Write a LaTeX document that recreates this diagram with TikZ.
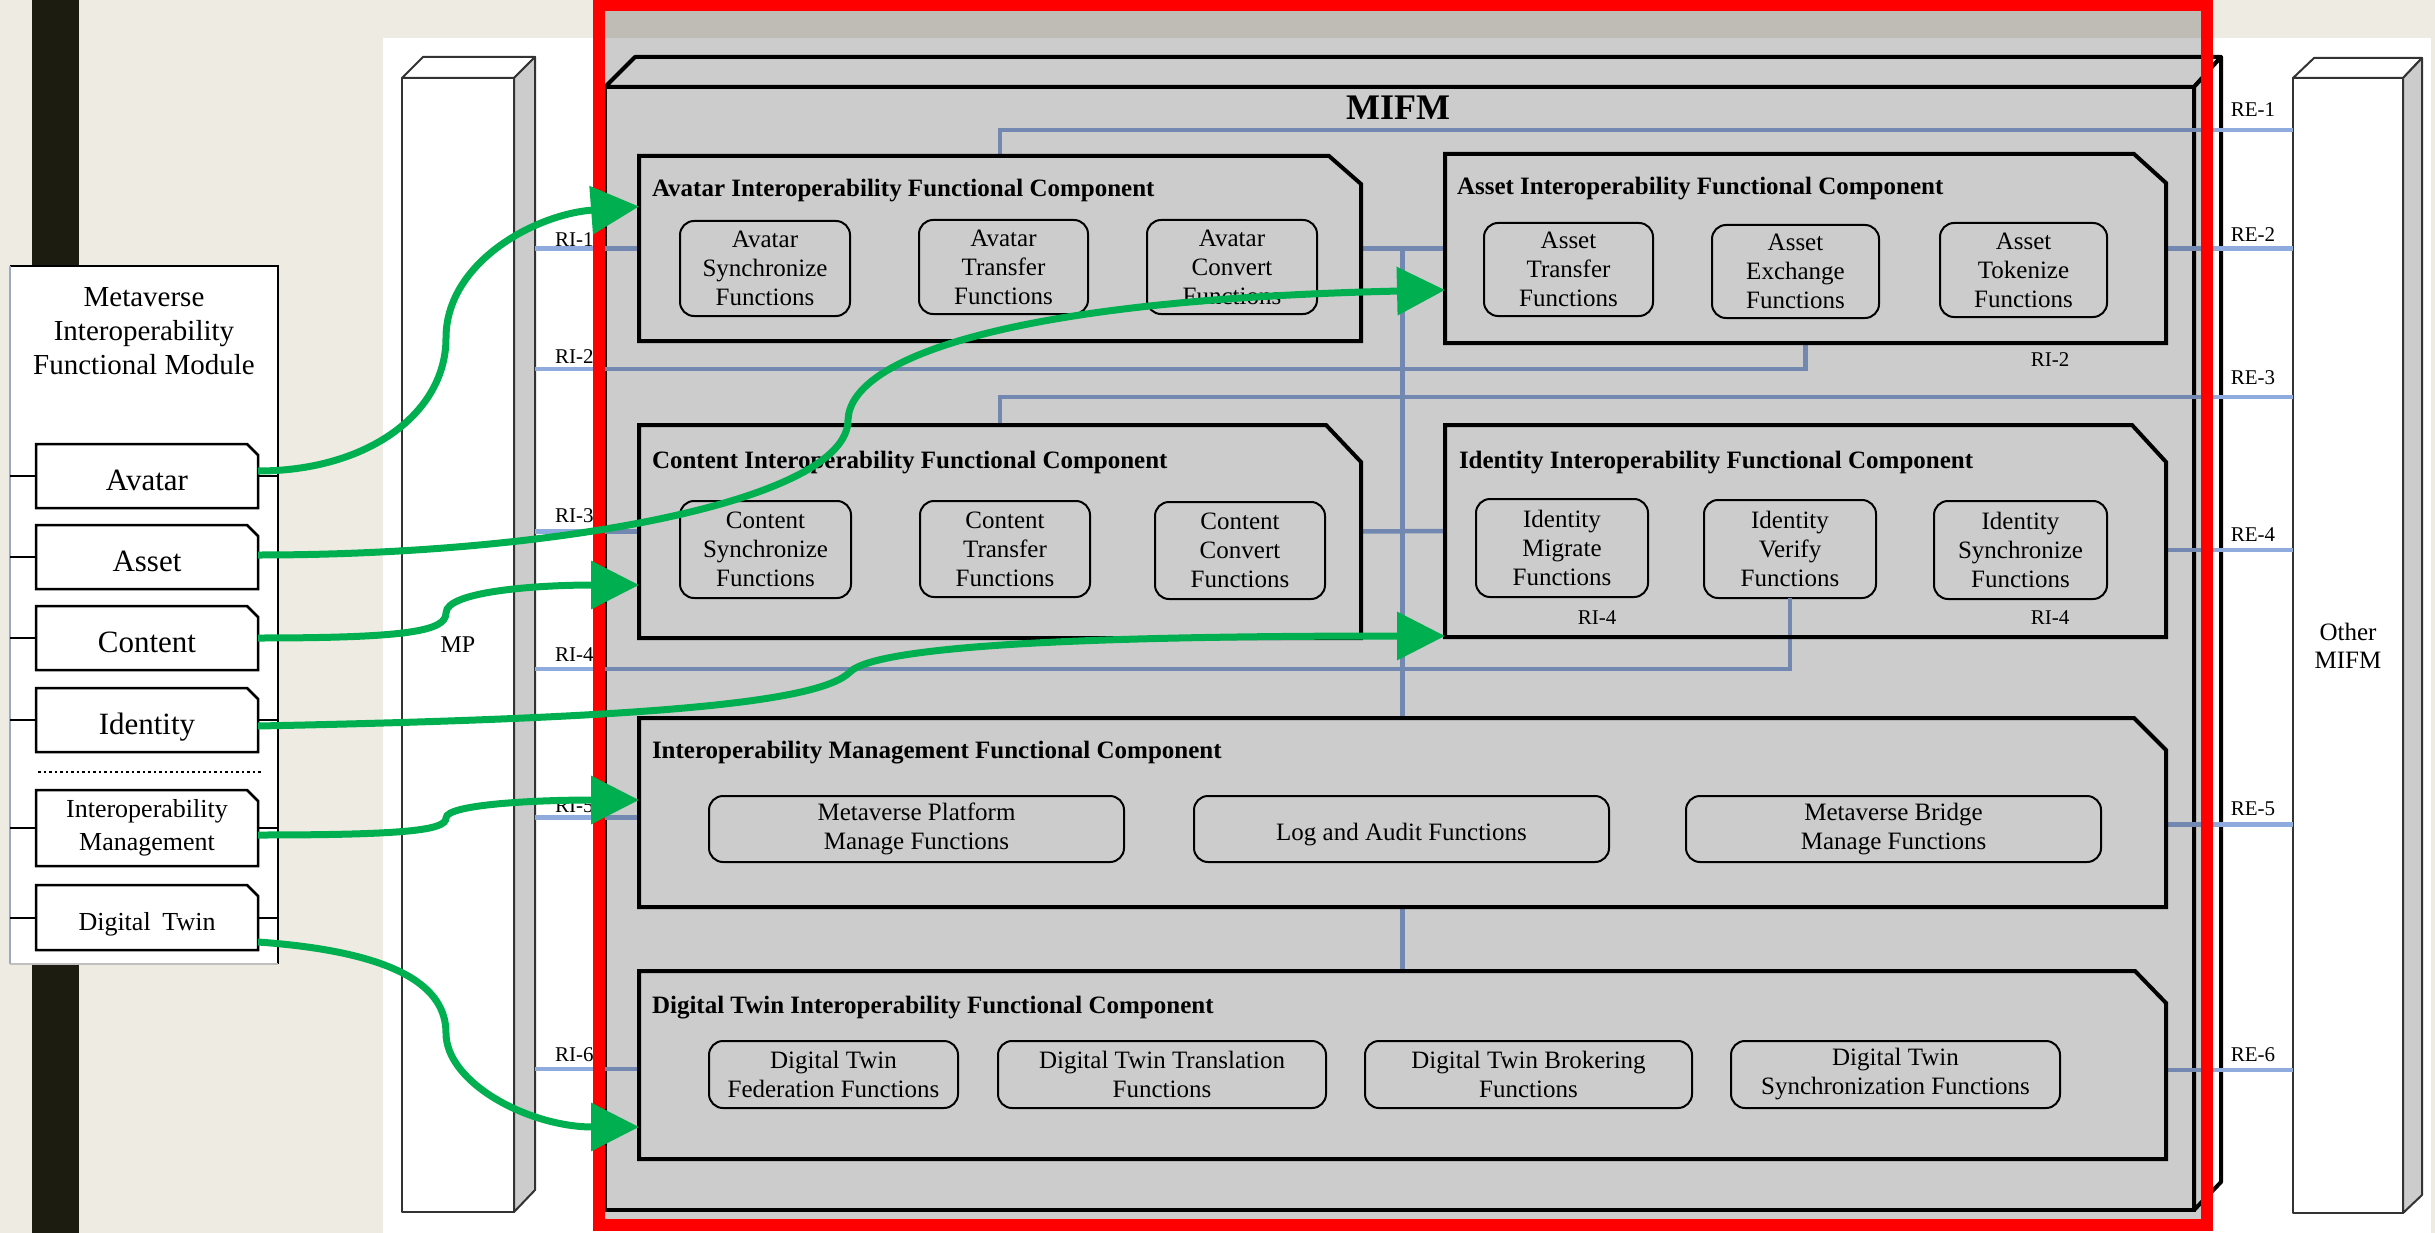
\documentclass[tikz,border=0pt]{standalone}
\usepackage{fontspec}
\setmainfont{Liberation Serif}
\usetikzlibrary{arrows.meta,calc}

\definecolor{bgbeige}{HTML}{EEEBE3}
\definecolor{darkbar}{HTML}{1C1C10}
\definecolor{ifblue}{HTML}{8FAADC}
\definecolor{sidegray}{HTML}{CCCCCC}
\definecolor{arrowgreen}{HTML}{00B050}
\definecolor{paneledge}{HTML}{9AAAC6}

% outline of a box whose top-right corner is cut off
\newcommand\chamferpath[4]{\draw[#4] (#1.north west) -- ([xshift=-#2pt]#1.north east) -- ([yshift=-#3pt]#1.north east) -- (#1.south east) -- (#1.south west) -- cycle;}

\begin{document}
\begin{tikzpicture}[x=1pt,y=-1pt,
  every node/.style={inner sep=0pt,outer sep=0pt},
  sz/.style 2 args={minimum width=#1pt,minimum height=#2pt},
  pillar/.style={draw=black!80,line width=2pt,line join=round},
  compline/.style={draw=black,line width=4pt,line join=miter},
  itemline/.style={draw=black,line width=2.5pt,line join=miter},
  fnbox/.style={draw=black,line width=2pt,rounded corners=14pt,fill=white,align=center,font=\fontsize{25}{29}\selectfont,execute at begin node={\rule{0pt}{28pt}}},
  ctitle/.style={anchor=base west,font=\bfseries\fontsize{25}{30}\selectfont},
  iflabel/.style={font=\fontsize{21}{24}\selectfont},
  ifline/.style={draw=ifblue,line width=4.5pt},
  tick/.style={draw=black,line width=2pt},
  mitem/.style={sz={222}{64},font=\fontsize{31}{36}\selectfont,text height=28.4pt,text depth=0pt},
  greenarrow/.style={draw=arrowgreen,line width=7pt,-{Triangle[length=48pt,width=47pt]}},
]
% ---------- background ----------
\fill[bgbeige] (0,0) rectangle (2435,1233);
\useasboundingbox (0,0) rectangle (2435,1233);
\fill[darkbar] (32,0) rectangle (79,1233);
\fill[white] (383,38) rectangle (2431,1233);

% ---------- MP pillar ----------
\node[sz={112}{1134},pillar,fill=white,font=\fontsize{24}{28}\selectfont] (mp) at (458,645) {MP};
\filldraw[pillar,fill=white] (mp.north west) -- ++(21,-21) -- ++(112,0) -- (mp.north east) -- cycle;
\filldraw[pillar,fill=sidegray] (mp.north east) -- ++(21,-21) -- ++(0,1133) -- (mp.south east) -- cycle;
\coordinate (mpR) at ([xshift=21pt]mp.east);

% ---------- Other MIFM pillar ----------
\node[sz={110}{1135},pillar,fill=white,align=center,font=\fontsize{25}{28}\selectfont] (om) at (2348,645.5) {Other\\MIFM};
\filldraw[pillar,fill=white] (om.north west) -- ++(21,-20) -- ++(108,0) -- (om.north east) -- cycle;
\filldraw[pillar,fill=sidegray] (om.north east) -- ++(19,-20) -- ++(0,1137) -- (om.south east) -- cycle;
\coordinate (omL) at (om.west);

% ---------- functional module panel ----------
\node[sz={268}{698},fill=white] (mod) at (144,615) {};
\draw[black,line width=2.5pt] (mod.north west) -- (mod.north east) -- (mod.south east);
\draw[paneledge,line width=2pt] (mod.north west) -- (mod.south west);
\draw[black!25,line width=1.5pt] (mod.south west) -- (mod.south east);
\node[align=center,font=\fontsize{29}{34}\selectfont] (modt) at (144,331) {Metaverse\\Interoperability\\Functional Module};

\node[mitem] (mAv) at (147,476) {Avatar};
\node[mitem] (mAs) at (147,557) {Asset};
\node[mitem] (mCt) at (147,638) {Content};
\node[mitem] (mId) at (147,720) {Identity};
\node[sz={222}{76},align=center,font=\fontsize{26}{32.5}\selectfont,execute at begin node={\rule{0pt}{26pt}}] (mIM) at (147,828) {Interoperability\\Management};
\node[sz={222}{65},font=\fontsize{26}{30}\selectfont,text height=26pt,text depth=0pt] (mDT) at (147,917.5) {Digital\hspace{0.2em} Twin};
\foreach \m in {mAv,mAs,mCt,mId,mIM,mDT}{
  \chamferpath{\m}{11}{11}{itemline}
  \draw[tick] (mod.west |- \m) -- (\m.west);
  \draw[tick] (\m.east) -- (mod.east |- \m);
}
\coordinate (dotL) at (38,772);
\coordinate (dotR) at (262,772);
\draw[line width=2.5pt,dash pattern=on 2.5pt off 3pt] (dotL) -- (dotR);

% ---------- MIFM block ----------
\node[sz={1589}{1123},fill=white,draw=black,line width=4pt] (mifm) at (1399.5,648.5) {};
\filldraw[fill=white,draw=black,line width=4pt,line join=round] (mifm.north west) -- ++(30,-30) -- ++(1586,0) -- (mifm.north east) -- cycle;
\filldraw[fill=white,draw=black,line width=4pt,line join=round] (mifm.north east) -- ++(27,-30) -- ++(0,1125) -- (mifm.south east) -- cycle;
\node[font=\bfseries\fontsize{36}{40}\selectfont] (mifmT) at (1398,108) {MIFM};

% component areas
\node[sz={722}{185}] (av) at (1000,248.5) {};
\node[sz={721}{189}] (as) at (1805.5,248.5) {};
\node[sz={722}{213}] (ct) at (1000,531.5) {};
\node[sz={721}{212}] (id) at (1805.5,531) {};
\node[sz={1527}{189}] (mg) at (1402.5,812.5) {};
\node[sz={1527}{188}] (dt) at (1402.5,1065) {};

% function boxes
\node[fnbox,sz={170}{95}] (avs) at (765,268.5) {Avatar\\Synchronize\\Functions};
\node[fnbox,sz={169}{94}] (avt) at (1003.5,267) {Avatar\\Transfer\\Functions};
\node[fnbox,sz={170}{94}] (avc) at (1232,267) {Avatar\\Convert\\Functions};
\node[fnbox,sz={169}{93}] (ast) at (1568.5,269.5) {Asset\\Transfer\\Functions};
\node[fnbox,sz={167}{93}] (ase) at (1795.5,271.5) {Asset\\Exchange\\Functions};
\node[fnbox,sz={167}{94}] (ask) at (2023.5,270) {Asset\\Tokenize\\Functions};
\node[fnbox,sz={171}{97}] (cts) at (765.5,549.5) {Content\\Synchronize\\Functions};
\node[fnbox,sz={170}{96}] (ctt) at (1005,549) {Content\\Transfer\\Functions};
\node[fnbox,sz={170}{97}] (ctc) at (1240,550.5) {Content\\Convert\\Functions};
\node[fnbox,sz={172}{98}] (idm) at (1562,548) {Identity\\Migrate\\Functions};
\node[fnbox,sz={172}{98}] (idv) at (1790,549) {Identity\\Verify\\Functions};
\node[fnbox,sz={173}{98}] (ids) at (2020.5,550) {Identity\\Synchronize\\Functions};
\node[fnbox,sz={415}{66}] (mgp) at (916.5,829) {Metaverse Platform\\Manage Functions};
\node[fnbox,sz={415}{66}] (mgl) at (1401.5,829) {Log and Audit Functions};
\node[fnbox,sz={415}{66}] (mgb) at (1893.5,829) {Metaverse Bridge\\Manage Functions};
\node[fnbox,sz={249}{67}] (dtf) at (833.5,1074.5) {Digital Twin\\Federation Functions};
\node[fnbox,sz={328}{67}] (dtt) at (1162,1074.5) {Digital Twin Translation\\Functions};
\node[fnbox,sz={327}{67}] (dtb) at (1528.5,1074.5) {Digital Twin Brokering\\Functions};
\node[fnbox,sz={329}{67}] (dts) at (1895.5,1074.5) {Digital Twin\\Synchronization Functions};

% ---------- reference point lines ----------
\coordinate (ri2end) at (535,369);
\coordinate (ri4end) at (535,669);
\coordinate (re1end) at (2293,130);
\coordinate (re3end) at (2293,397);
\coordinate (mgW) at ([yshift=-5pt]mg.west);
\coordinate (dtW) at ([yshift=-4pt]dt.west);
\coordinate (idE) at ([yshift=-19pt]id.east);
\coordinate (mgE) at ([yshift=-12pt]mg.east);
\coordinate (dtE) at ([yshift=-5pt]dt.east);

\draw[ifline] (av.west) -- (av.west -| mpR);
\draw[ifline] (as.south) |- (ri2end);
\draw[ifline] (ct.west) -- (ct.west -| mpR);
\draw[ifline] (idv.south) |- (ri4end);
\draw[ifline] (mgW) -- (mgW -| mpR);
\draw[ifline] (dtW) -- (dtW -| mpR);

\draw[ifline] (av.north) |- (re1end);
\draw[ifline] (as.east) -- (as.east -| omL);
\draw[ifline] (ct.north) |- (re3end);
\draw[ifline] (idE) -- (idE -| omL);
\draw[ifline] (mgE) -- (mgE -| omL);
\draw[ifline] (dtE) -- (dtE -| omL);

\draw[ifline] (av.east) -- (as.west);
\draw[ifline] (ct.east) -- (id.west);
\draw[ifline] (mg.north) -- (mg.north |- av.east);
\draw[ifline] (mg.south) -- (dt.north);

% component outlines and titles
\chamferpath{av}{32}{28}{compline}
\chamferpath{as}{32}{29}{compline}
\chamferpath{ct}{35}{37}{compline}
\chamferpath{id}{34}{37}{compline}
\chamferpath{mg}{32}{32}{compline}
\chamferpath{dt}{31}{32}{compline}
\node[ctitle] (avT) at (652,197) {Avatar Interoperability Functional Component};
\node[ctitle] (asT) at (1457,195) {Asset Interoperability Functional Component};
\node[ctitle] (ctT) at (652,468) {Content Interoperability Functional Component};
\node[ctitle] (idT) at (1459,468) {Identity Interoperability Functional Component};
\node[ctitle] (mgT) at (652,758) {Interoperability Management Functional Component};
\node[ctitle] (dtT) at (652,1013) {Digital Twin Interoperability Functional Component};

% reference point labels
\node[iflabel,anchor=west] (lri1) at (555,240) {RI-1};
\node[iflabel,anchor=west] (lri2) at (555,357) {RI-2};
\node[iflabel,anchor=west] (lri3) at (555,516) {RI-3};
\node[iflabel,anchor=west] (lri4) at (555,655) {RI-4};
\node[iflabel,anchor=west] (lri5) at (555,806) {RI-5};
\node[iflabel,anchor=west] (lri6) at (555,1055) {RI-6};
\node[iflabel] (lri2b) at (2050,360) {RI-2};
\node[iflabel] (lri4a) at (1597,618) {RI-4};
\node[iflabel] (lri4b) at (2050,618) {RI-4};
\node[iflabel] (lre1) at (2253,110) {RE-1};
\node[iflabel] (lre2) at (2253,235) {RE-2};
\node[iflabel] (lre3) at (2253,378) {RE-3};
\node[iflabel] (lre4) at (2253,535) {RE-4};
\node[iflabel] (lre5) at (2253,809) {RE-5};
\node[iflabel] (lre6) at (2253,1055) {RE-6};

% ---------- highlight of the MIFM ----------
\fill[black,opacity=0.2] (605,11) rectangle (2201,1219);
\draw[red,line width=12pt] (599,5.5) rectangle (2207,1225);

% ---------- mapping arrows ----------
\coordinate (b1) at (446,338);
\coordinate (b2) at (848,420);
\coordinate (b3) at (446,613);
\coordinate (b4) at (850,672);
\coordinate (b5) at (446,818);
\coordinate (b6) at (446,1033);

\draw[greenarrow] ([yshift=5pt]mAv.east) .. controls +(110,0) and +(0,75) .. (b1) .. controls +(0,-75) and +(-105,8) .. ([yshift=42pt]av.west);
\draw[greenarrow] ([yshift=2pt]mAs.east) .. controls +(302,0) and +(0,80) .. (b2) .. controls +(2,-60) and +(-445,10) .. ([yshift=-41.5pt]as.west);
\draw[greenarrow] (mCt.east) .. controls +(150,0) and +(0,18) .. (b3) .. controls +(0,-22) and +(-100,0) .. ([yshift=-53.5pt]ct.west);
\draw[greenarrow] ([yshift=-6pt]mId.east) .. controls +(400,-8) and +(-30,30) .. (b4) .. controls +(30,-30) and +(-300,0) .. ([yshift=-105pt]id.west);
\draw[greenarrow] ([yshift=-7pt]mIM.east) .. controls +(150,0) and +(0,12) .. (b5) .. controls +(0,-14) and +(-100,0) .. ([yshift=12.5pt]mg.west);
\draw[greenarrow] ([yshift=-24.5pt]mDT.east) .. controls +(142,10) and +(0,-45) .. (b6) .. controls +(0,50) and +(-110,0) .. ([yshift=-62pt]dt.west);
\end{tikzpicture}
\end{document}
